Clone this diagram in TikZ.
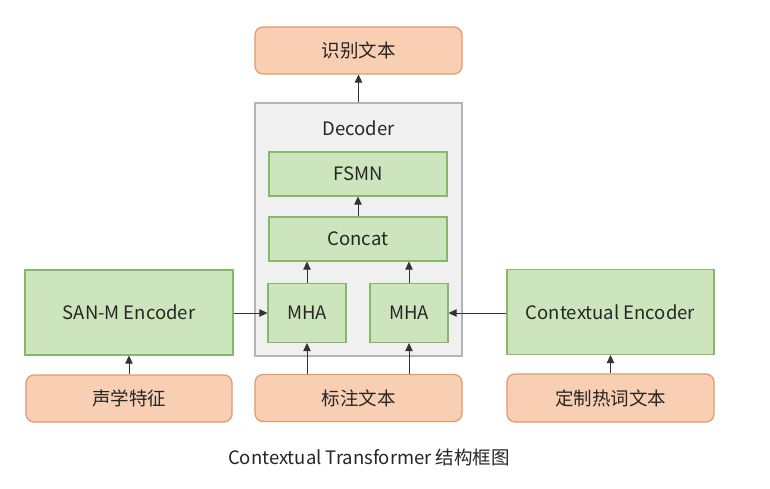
\documentclass[tikz,border=0pt]{standalone}
\usepackage{fontspec}
\setmainfont{Noto Sans CJK SC}
\usetikzlibrary{arrows.meta}
\definecolor{orfill}{HTML}{F8CFB2}
\definecolor{ordraw}{HTML}{E3996C}
\definecolor{grfill}{HTML}{CCE5BC}
\definecolor{grdraw}{HTML}{86B86A}
\definecolor{decfill}{HTML}{F0F0F0}
\definecolor{decdraw}{HTML}{B4B4B4}
\definecolor{arr}{HTML}{333333}
\tikzset{
  base/.style={inner sep=0pt, font=\fontsize{18.5}{22}\selectfont, text=black!85},
  obox/.style={base, draw=ordraw, fill=orfill, line width=1.2pt, rounded corners=8pt},
  gbox/.style={base, draw=grdraw, fill=grfill, line width=1.2pt},
  dbox/.style={draw=decdraw, fill=decfill, line width=1.2pt},
  conn/.style={draw=arr, line width=0.9pt, -{Triangle[length=8pt,width=7.5pt]}},
}
\begin{document}
\begin{tikzpicture}[x=1pt,y=-1pt]
\useasboundingbox[fill=white] (0,0) rectangle (770,489);
% decoder container
\node[dbox, minimum width=207pt, minimum height=253pt] (dec) at (358.5,229.5) {};
\node[base] (declabel) at (358.5,128) {Decoder};
% top
\node[obox, minimum width=207pt, minimum height=47pt] (out) at (358.5,50.5) {识别文本};
% decoder inner
\node[gbox, minimum width=178pt, minimum height=44pt] (fsmn) at (358,174) {FSMN};
\node[gbox, minimum width=178pt, minimum height=44pt] (concat) at (358,239) {Concat};
\node[gbox, minimum width=78pt, minimum height=59pt] (mha1) at (307,313) {MHA};
\node[gbox, minimum width=78pt, minimum height=59pt] (mha2) at (409,313) {MHA};
% encoders
\node[gbox, minimum width=208pt, minimum height=85pt] (san) at (129,312.5) {SAN-M Encoder};
\node[gbox, minimum width=207pt, minimum height=85pt] (ctx) at (610.5,312) {Contextual Encoder};
% inputs
\node[obox, minimum width=206pt, minimum height=47pt] (ac) at (129,398.5) {声学特征};
\node[obox, minimum width=207pt, minimum height=47pt] (lab) at (358.5,398) {标注文本};
\node[obox, minimum width=207pt, minimum height=48pt] (hot) at (610.5,398) {定制热词文本};
% caption
\node[base] (cap) at (369,457) {Contextual Transformer 结构框图};
% connectors
\draw[conn] (dec.north) -- (out.south);
\draw[conn] (concat.north) -- (fsmn.south);
\draw[conn] (mha1.north) -- (mha1.north |- concat.south);
\draw[conn] (mha2.north) -- (mha2.north |- concat.south);
\draw[conn] (mha1.south |- lab.north) -- (mha1.south);
\draw[conn] (mha2.south |- lab.north) -- (mha2.south);
\draw[conn] (san.east |- mha1.west) -- (mha1.west);
\draw[conn] (ctx.west |- mha2.east) -- (mha2.east);
\draw[conn] (ac.north) -- (san.south);
\draw[conn] (hot.north) -- (ctx.south);
\end{tikzpicture}
\end{document}
